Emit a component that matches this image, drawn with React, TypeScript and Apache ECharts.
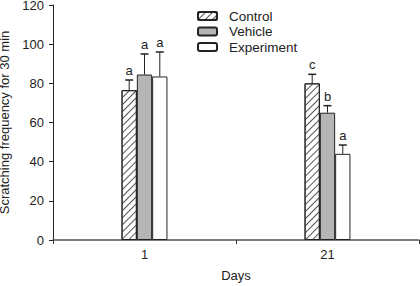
import React, { useEffect, useRef } from "react";
import * as echarts from "echarts";

const categories = ["1", "21"];
const seriesNames = ["Control", "Vehicle", "Experiment"];
const controlValues = [76.5, 80];
const vehicleValues = [84.5, 65];
const experimentValues = [83.5, 44];
const controlErrTop = [81.7, 84.6];
const vehicleErrTop = [95, 68.6];
const experimentErrTop = [96, 48.5];
const controlLetters = ["a", "c"];
const vehicleLetters = ["a", "b"];
const experimentLetters = ["a", "a"];
const yTicks = [0, 20, 40, 60, 80, 100, 120];

const FONT = "Liberation Sans, Arial, sans-serif";
const BAR_W = 15.3;

export default function App() {
  const ref = useRef<HTMLDivElement>(null);
  useEffect(() => {
    if (!ref.current) return;
    const chart = echarts.init(ref.current, undefined, { renderer: "svg" });
    const values = [controlValues, vehicleValues, experimentValues];
    const errs = [controlErrTop, vehicleErrTop, experimentErrTop];
    const letters = [controlLetters, vehicleLetters, experimentLetters];
    const styles = [
      {
        color: "#ffffff",
        borderColor: "#222",
        borderWidth: 1,
        decal: {
          symbol: "rect",
          symbolSize: 1,
          dashArrayX: [1, 0],
          dashArrayY: [1, 4],
          rotation: -Math.PI / 4,
          color: "#555",
          backgroundColor: "#ffffff",
        },
      },
      { color: "#b5b5b5", borderColor: "#222", borderWidth: 1 },
      { color: "#ffffff", borderColor: "#222", borderWidth: 1 },
    ];
    const barSeries = seriesNames.map((name, i) => ({
      type: "bar",
      name,
      data: values[i],
      barWidth: BAR_W,
      barGap: "0%",
      itemStyle: styles[i],
    }));
    const errSeries = seriesNames.map((name, i) => ({
      type: "custom",
      name: name + "-err",
      data: values[i].map((v, j) => [j, v, errs[i][j], letters[i][j]]),
      z: 5,
      renderItem: (params: any, api: any) => {
        const cat = api.value(0);
        const base = api.coord([cat, api.value(1)]);
        const top = api.coord([cat, api.value(2)]);
        const x = base[0] + (i - 1) * BAR_W;
        const letter = letters[i][params.dataIndex];
        return {
          type: "group",
          children: [
            {
              type: "line",
              shape: { x1: x, y1: base[1], x2: x, y2: top[1] },
              style: { stroke: "#222", lineWidth: 1 },
            },
            {
              type: "line",
              shape: { x1: x - 4, y1: top[1], x2: x + 4, y2: top[1] },
              style: { stroke: "#222", lineWidth: 1.5 },
            },
            {
              type: "text",
              x: x,
              y: top[1] - 3,
              style: {
                text: letter,
                fontSize: 13,
                fontFamily: FONT,
                fill: "#222",
                align: "center",
                verticalAlign: "bottom",
              },
            },
          ],
        };
      },
    }));
    chart.setOption({
      animation: false,
      grid: { left: 53, right: 1, top: 5, bottom: 46, outerBoundsMode: "none", containLabel: false },
      legend: {
        data: seriesNames,
        orient: "vertical",
        left: 197,
        top: 9,
        padding: 0,
        itemWidth: 19,
        itemHeight: 8,
        itemGap: 1.5,
        selectedMode: false,
        textStyle: { fontSize: 13.5, fontFamily: FONT, color: "#222", padding: [0, 0, 0, 7] },
      },
      xAxis: {
        type: "category",
        data: categories,
        name: "Days",
        nameLocation: "middle",
        nameGap: 29,
        nameTextStyle: { fontSize: 13, fontFamily: FONT, color: "#222" },
        axisLine: { lineStyle: { color: "#555", width: 1.5 } },
        axisTick: { show: true, length: 4, lineStyle: { color: "#333" } },
        axisLabel: { fontSize: 13, fontFamily: FONT, color: "#222", margin: 8 },
      },
      yAxis: {
        type: "value",
        min: yTicks[0],
        max: yTicks[yTicks.length - 1],
        interval: yTicks[1] - yTicks[0],
        name: "Scratching frequency for 30 min",
        nameLocation: "middle",
        nameGap: 37,
        nameTextStyle: { fontSize: 13, fontFamily: FONT, color: "#222", lineHeight: 12 },
        splitLine: { show: false },
        axisLine: { show: true, lineStyle: { color: "#222", width: 1 } },
        axisTick: { show: true, length: 4, lineStyle: { color: "#222" } },
        axisLabel: { fontSize: 13, fontFamily: FONT, color: "#222", margin: 9, lineHeight: 10 },
      },
      series: [...barSeries, ...errSeries],
    });
    return () => chart.dispose();
  }, []);
  return <div ref={ref} style={{ width: 420, height: 286, position: "absolute", left: 0, top: 0 }} />;
}
